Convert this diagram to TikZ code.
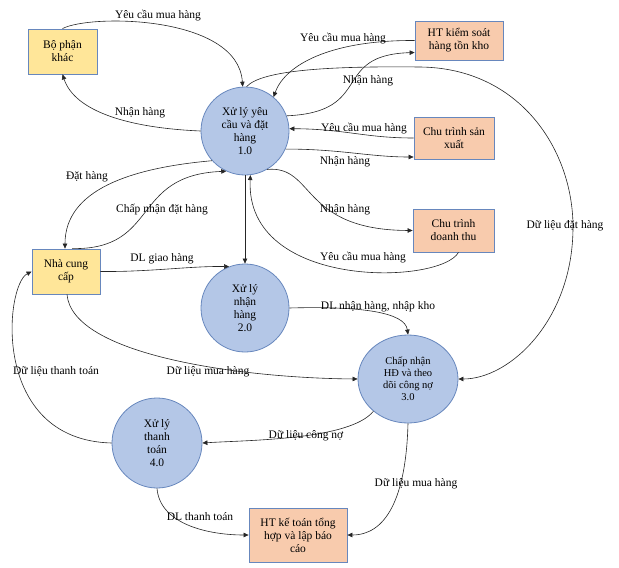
\documentclass[tikz,border=0pt]{standalone}
\usepackage{fontspec}
\setmainfont{Liberation Serif}
\usetikzlibrary{shapes.geometric,arrows.meta}
\definecolor{extyellow}{HTML}{FFE699}
\definecolor{extorange}{HTML}{F8CBAD}
\definecolor{procfill}{HTML}{B4C7E7}
\definecolor{rimblue}{HTML}{6787BD}
\tikzset{>={Stealth[length=5pt,width=4.5pt,inset=0pt]}}
\tikzset{
    txt/.style={font=\fontsize{11.5}{13}\selectfont},
    agent/.style={txt, draw=rimblue, line width=0.8pt, align=center, inner sep=1pt},
    extbox/.style={agent, fill=extyellow},
    sysbox/.style={agent, fill=extorange},
    proc/.style={txt, circle, draw=rimblue, line width=0.8pt, fill=procfill, align=center, inner sep=0pt, minimum size=88pt},
    flow/.style={->, line width=0.6pt, black!85},
    lbl/.style={txt, inner sep=0pt},
}

\begin{document}
\begin{tikzpicture}[x=1pt,y=-1pt]
    \useasboundingbox (0,0) rectangle (619,568);
    % processes
    \node[proc] (c1) at (245,131) {Xử lý yêu\\cầu và đặt\\hàng\\1.0};
    \node[proc] (c2) at (245,308) {Xử lý\\nhận\\hàng\\2.0};
    \node[proc, ellipse, minimum width=100pt, minimum height=88pt, font=\fontsize{10.5}{12}\selectfont] (c3) at (408,379) {Chấp nhận\\HĐ và theo\\dõi công nợ\\3.0};
    \node[proc, minimum size=90pt] (c4) at (157,443) {Xử lý\\thanh\\toán\\4.0};
    % external entities
    \node[extbox, minimum width=69pt, minimum height=45pt] (bpk) at (62.5,51.5) {Bộ phận\\khác};
    \node[extbox, minimum width=68pt, minimum height=45pt] (ncc) at (66,271.5) {Nhà cung\\cấp};
    \node[sysbox, minimum width=88pt, minimum height=39pt] (htk) at (459,40.5) {HT kiểm soát\\hàng tồn kho};
    \node[sysbox, minimum width=80pt, minimum height=42pt] (csx) at (454,138) {Chu trình sản\\xuất};
    \node[sysbox, minimum width=81pt, minimum height=43pt] (cdt) at (453.5,230.5) {Chu trình\\doanh thu};
    \node[sysbox, minimum width=98pt, minimum height=54pt] (kt) at (298,535) {HT kế toán tổng\\hợp và lập báo\\cáo};

    % flows around 1.0
    \draw[flow] (bpk.north) .. controls (90,14) and (238,15) .. (c1.93);
    \draw[flow] (c1.180) .. controls (130,128) and (75,112) .. (bpk.south);
    \draw[flow] (htk.west) .. controls (330,40) and (285,65) .. (c1.50);
    \draw[flow] (c1.20) .. controls (375,112) and (330,55) .. ([yshift=-12pt]htk.west);
    \draw[flow] (csx.west) .. controls (365,138) and (345,129) .. (c1.3);
    \draw[flow] (c1.-24) .. controls (340,149) and (370,157) .. ([yshift=-19pt]csx.west);
    \draw[flow] (c1.-60) .. controls (315,165) and (300,230) .. (cdt.west);
    \draw[flow] ([xshift=5pt]cdt.south) .. controls (440,285) and (245,290) .. (c1.-83);
    \draw[flow] (c1.south) -- (c2.north);
    \draw[flow] (c1.222) .. controls (130,168) and (65,190) .. ([xshift=-1pt]ncc.north);
    \draw[flow] ([xshift=6pt]ncc.north) .. controls (160,250) and (130,175) .. (c1.245);
    \draw[flow] (c1.88) .. controls (262,70) and (330,66) .. (420,67)
        .. controls (520,68) and (573,150) .. (573,227)
        .. controls (573,320) and (510,379) .. (c3.east);
    % flows of the lower part
    \draw[flow] (ncc.east) .. controls (150,272) and (190,266) .. (c2.111);
    \draw[flow] ([xshift=1pt]ncc.south) .. controls (72,355) and (240,378) .. (c3.west);
    \draw[flow] (c2.east) .. controls (360,306) and (405,312) .. (c3.north);
    \draw[flow] (c3.223) .. controls (350,440) and (250,440) .. (c4.east);
    \draw[flow] (c4.west) .. controls (-10,440) and (5,285) .. (ncc.west);
    \draw[flow] (c4.south) .. controls (160,525) and (210,535) .. (kt.west);
    \draw[flow] (c3.south) .. controls (406,500) and (385,535) .. (kt.east);

    % labels
    \node[lbl] (l1) at (158,16) {Yêu cầu mua hàng};
    \node[lbl] (l2) at (140,113) {Nhận hàng};
    \node[lbl] (l3) at (343,39) {Yêu cầu mua hàng};
    \node[lbl] (l4) at (368,81) {Nhận hàng};
    \node[lbl] (l5) at (364,129) {Yêu cầu mua hàng};
    \node[lbl] (l6) at (345,162) {Nhận hàng};
    \node[lbl] (l7) at (345,210) {Nhận hàng};
    \node[lbl] (l8) at (363,258) {Yêu cầu mua hàng};
    \node[lbl] (l9) at (565,226) {Dữ liệu đặt hàng};
    \node[lbl] (l10) at (87,177) {Đặt hàng};
    \node[lbl] (l11) at (162,210) {Chấp nhận đặt hàng};
    \node[lbl] (l12) at (162,259) {DL giao hàng};
    \node[lbl] (l13) at (378,307) {DL nhận hàng, nhập kho};
    \node[lbl] (l14) at (208,372) {Dữ liệu mua hàng};
    \node[lbl] (l15) at (56,371) {Dữ liệu thanh toán};
    \node[lbl] (l16) at (306,436) {Dữ liệu công nợ};
    \node[lbl] (l17) at (200,517) {DL thanh toán};
    \node[lbl] (l18) at (416,484) {Dữ liệu mua hàng};
\end{tikzpicture}
\end{document}
